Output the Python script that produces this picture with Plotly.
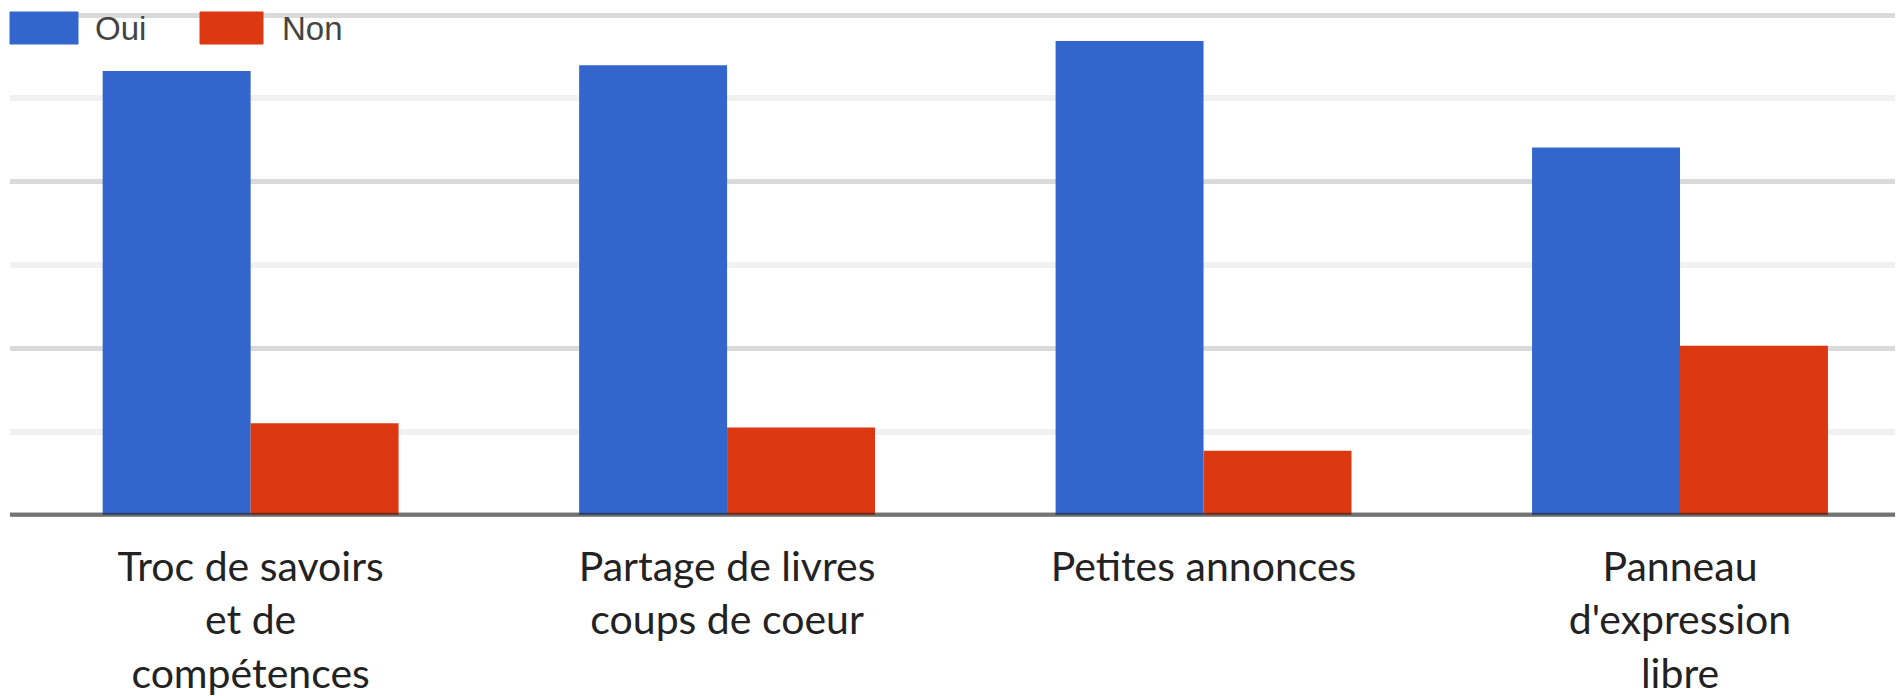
import plotly.graph_objects as go

categories = [
    "Troc de savoirs<br>et de<br>compétences",
    "Partage de livres<br>coups de coeur",
    "Petites annonces",
    "Panneau<br>d'expression<br>libre",
]
oui_values = [53.3, 54.0, 56.9, 44.1]
non_values = [11.0, 10.5, 7.7, 20.3]
series_names = ["Oui", "Non"]
series_colors = ["#3366cc", "#dc3912"]

# the page body has an 8px default margin; compensate so the chart fills the window
BODY = 8
W, H = 1903 - BODY, 696 - BODY
ML, MR, MT, MB = 2, 0, 3, 177
plot_w = W - ML - MR
plot_h = H - MT - MB

def px_x(x):
    return (x - BODY - ML) / plot_w

def px_y(y):
    return (H - MB - (y - BODY)) / plot_h

fig = go.Figure()
for name, vals, col in zip(series_names, [oui_values, non_values], series_colors):
    fig.add_trace(go.Bar(
        x=categories, y=vals, name=name,
        marker=dict(color=col, line=dict(width=0)),
        showlegend=False,
    ))

# baseline drawn over bars
fig.add_shape(type="line", xref="paper", yref="y", x0=0, x1=1, y0=0, y1=0,
              line=dict(color="rgba(30,30,30,0.55)", width=4), layer="above")

# custom legend
legend_items = [
    (10, 78, 93),
    (200, 263, 280),
]
for (bx0, bx1, tx), name, col in zip(legend_items, series_names, series_colors):
    fig.add_shape(type="rect", xref="paper", yref="paper",
                  x0=px_x(bx0), x1=px_x(bx1), y0=px_y(44), y1=px_y(12),
                  fillcolor=col, line=dict(color=col, width=1), layer="above")
    fig.add_annotation(xref="paper", yref="paper", x=px_x(tx), y=px_y(28),
                       text=name, showarrow=False, xanchor="left", yanchor="middle",
                       font=dict(family="Liberation Sans, Arial", size=33, color="#444444"))

fig.update_layout(
    width=W, height=H,
    margin=dict(l=ML, r=MR, t=MT, b=MB, pad=0),
    plot_bgcolor="white", paper_bgcolor="white",
    barmode="group", bargap=0.379, bargroupgap=0.0,
    showlegend=False,
    xaxis=dict(
        range=[-0.505, 3.468], showgrid=False, zeroline=False, showline=False,
        ticks="", tickfont=dict(family="Lato", size=41, color="#222222"),
        ticklabelstandoff=20,
    ),
    yaxis=dict(
        range=[-0.5, 60.5], dtick=20, tick0=0, showticklabels=False,
        showgrid=True, gridcolor="#dadada", gridwidth=5,
        zeroline=False, showline=False,
        minor=dict(dtick=10, showgrid=True, gridcolor="#f1f1f1", gridwidth=6),
    ),
)

fig.write_html("out.html")
